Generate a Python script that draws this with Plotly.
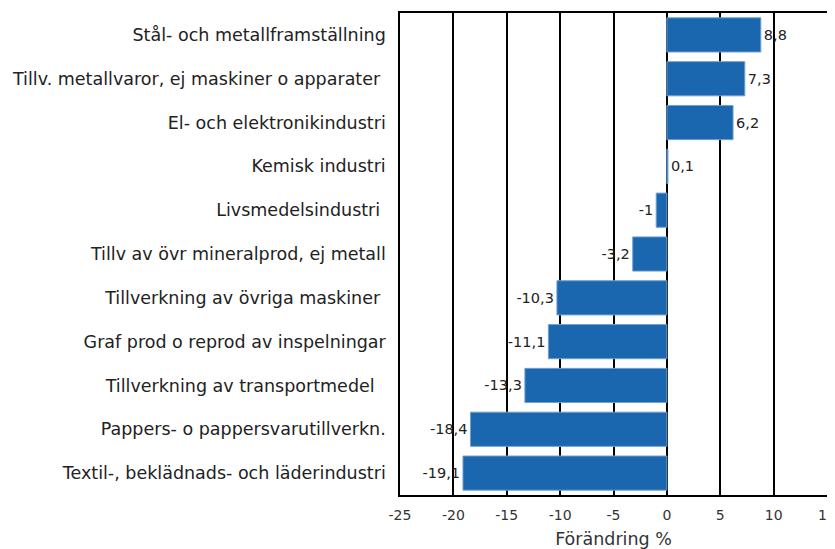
import plotly.graph_objects as go

categories = [
    "Stål- och metallframställning",
    "Tillv. metallvaror, ej maskiner o apparater\u00a0",
    "El- och elektronikindustri",
    "Kemisk industri",
    "Livsmedelsindustri\u00a0",
    "Tillv av övr mineralprod, ej metall",
    "Tillverkning av övriga maskiner\u00a0",
    "Graf prod o reprod av inspelningar",
    "Tillverkning av transportmedel\u00a0\u00a0",
    "Pappers- o pappersvarutillverkn.",
    "Textil-, beklädnads- och läderindustri",
]
values = [8.8, 7.3, 6.2, 0.1, -1.0, -3.2, -10.3, -11.1, -13.3, -18.4, -19.1]
value_labels = ["8,8", "7,3", "6,2", "0,1", "-1", "-3,2", "-10,3", "-11,1", "-13,3", "-18,4", "-19,1"]
x_ticks = [-25, -20, -15, -10, -5, 0, 5, 10, 15]

FONT = "DejaVu Sans, Verdana, sans-serif"

fig = go.Figure(go.Bar(
    y=categories,
    x=values,
    orientation="h",
    text=value_labels,
    textposition="outside",
    textfont=dict(family=FONT, size=14.5, color="#222222"),
    cliponaxis=False,
    marker=dict(color="#1a67b0", line=dict(color="#6fa0d0", width=1)),
))

# page body has an 8px default margin, so the figure is offset by 8px
fig.update_layout(
    width=827, height=541,
    margin=dict(l=392, r=8, t=5, b=54),
    paper_bgcolor="white", plot_bgcolor="white",
    bargap=0.22,
    showlegend=False,
    font=dict(family=FONT, size=16, color="#222222"),
    xaxis=dict(
        range=[-25, 15], tickvals=x_ticks,
        ticktext=[str(t) for t in x_ticks],
        showgrid=True, gridcolor="black", gridwidth=1.5,
        zeroline=False,
        showline=True, linecolor="black", linewidth=1.5, mirror=True,
        ticks="", tickfont=dict(size=14, color="#333333"),
        ticklabelstandoff=6, ticklabeloverflow="allow",
        automargin=False,
        title=dict(text="Förändring %", font=dict(size=17.5, color="#333333"), standoff=12),
    ),
    yaxis=dict(
        autorange="reversed",
        showgrid=False, zeroline=False,
        showline=True, linecolor="black", linewidth=1.5, mirror=True,
        ticks="", ticklabelstandoff=9, tickfont=dict(size=17.5),
        automargin=False,
    ),
)

fig.write_html("out.html")
